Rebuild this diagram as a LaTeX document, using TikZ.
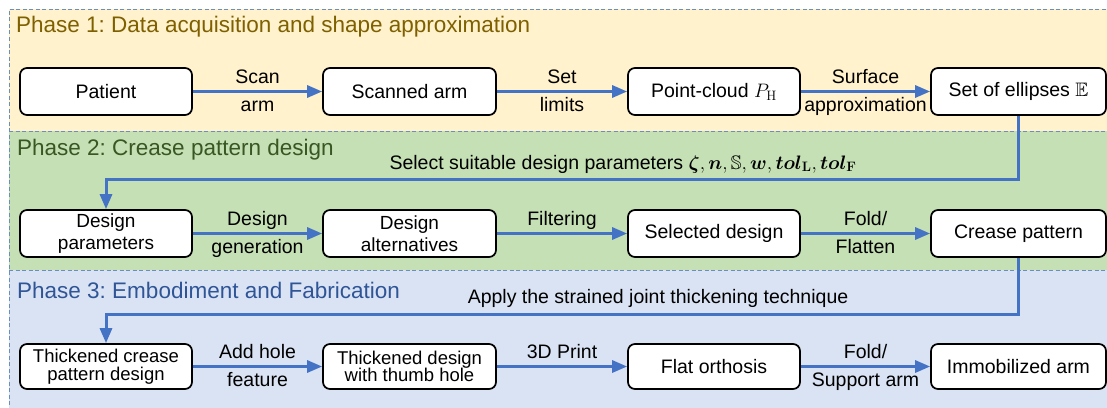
\RequirePackage{fix-cm}
\documentclass[tikz,border=0pt]{standalone}
\usepackage{amsmath,amssymb,bm}
\usepackage[no-math]{fontspec}
\setmainfont{Liberation Sans}
\usetikzlibrary{arrows.meta,calc}
\frenchspacing

\definecolor{bandA}{HTML}{FFF2CC}
\definecolor{bandB}{HTML}{C5E0B4}
\definecolor{bandC}{HTML}{DAE3F3}
\definecolor{titleA}{HTML}{7F6000}
\definecolor{titleB}{HTML}{385723}
\definecolor{titleC}{HTML}{2F5597}
\definecolor{bandline}{HTML}{6C8EBF}
\definecolor{flowblue}{HTML}{4472C4}

\begin{document}
\begin{tikzpicture}[x=1pt,y=-1pt,
  stage/.style={draw=black, line width=1.7pt, rounded corners=7pt, fill=white,
    minimum width=172pt, minimum height=47pt, inner sep=2pt, align=center,
    font=\fontsize{19.5}{23}\selectfont},
  twoline/.style={font=\fontsize{19}{21.5}\selectfont},
  tightline/.style={font=\fontsize{18.5}{17.5}\selectfont},
  flow/.style={draw=flowblue, line width=3pt,
    -{Triangle[length=15pt,width=12pt]}},
  lblup/.style={anchor=base, inner sep=0pt, yshift=8pt,
    font=\fontsize{19.5}{23}\selectfont},
  lbldn/.style={anchor=base, inner sep=0pt, yshift=-19.5pt,
    font=\fontsize{19.5}{23}\selectfont},
  note/.style={anchor=base, inner sep=0pt, font=\fontsize{19.5}{23}\selectfont},
  phasetitle/.style={anchor=base west, inner sep=0pt,
    font=\fontsize{22.5}{27}\selectfont},
  bandedge/.style={draw=bandline, line width=1pt, dash pattern=on 4pt off 2.5pt}
]
\useasboundingbox (0,0) rectangle (1107,407);

% phase bands
\fill[bandA] (9,9) rectangle (1112,131);
\fill[bandB] (9,131) rectangle (1112,270);
\fill[bandC] (9,270) rectangle (1112,412);
\draw[bandedge] (1112,9) -- (9,9) -- (9,412);
\draw[bandedge] (9,131) -- (1112,131);
\draw[bandedge] (9,270) -- (1112,270);

% phase titles
\node[phasetitle, text=titleA] (title1) at (16,32) {Phase 1: Data acquisition and shape approximation};
\node[phasetitle, text=titleB] (title2) at (17,155) {Phase 2: Crease pattern design};
\node[phasetitle, text=titleC] (title3) at (17,298) {Phase 3: Embodiment and Fabrication};

% row 1
\node[stage] (pat)  at (106,91.5)    {Patient};
\node[stage, minimum width=173pt] (scan) at (409.5,91.5) {Scanned arm};
\node[stage] (pcl)  at (714,91.5)    {Point-cloud $P_{\mathrm{H}}$};
\node[stage, minimum width=175pt] (ell)  at (1018.5,91.5) {Set of ellipses $\mathbb{E}$};

% row 2
\node[stage, twoline] (dpar) at (106,233.5) {Design\\parameters};
\node[stage, twoline, minimum width=173pt] (dalt) at (409.5,233.5) {Design\\alternatives};
\node[stage] (sel)  at (714,233.5)   {Selected design};
\node[stage, minimum width=175pt] (crease) at (1018.5,233.5) {Crease pattern};

% row 3
\node[stage, tightline, minimum height=45pt] (thk) at (106,366.5) {Thickened crease\\pattern design};
\node[stage, tightline, minimum height=45pt, minimum width=173pt] (thm) at (409.5,366.5) {Thickened design\\with thumb hole};
\node[stage, minimum height=45pt] (flat) at (714,366.5) {Flat orthosis};
\node[stage, minimum height=45pt, minimum width=175pt] (imm) at (1018.5,366.5) {Immobilized arm};

% horizontal steps
\draw[flow] (pat) -- (scan) node[midway, lblup] {Scan} node[midway, lbldn] {arm};
\draw[flow] (scan) -- (pcl) node[midway, lblup] {Set} node[midway, lbldn] {limits};
\draw[flow] (pcl) -- (ell) node[midway, lblup] {Surface} node[midway, lbldn] {approximation};

\draw[flow] (dpar) -- (dalt) node[midway, lblup] {Design} node[midway, lbldn] {generation};
\draw[flow] (dalt) -- (sel) node[midway, lblup] {Filtering};
\draw[flow] (sel) -- (crease) node[midway, lblup] {Fold/} node[midway, lbldn] {Flatten};

\draw[flow] (thk) -- (thm) node[midway, lblup] {Add hole} node[midway, lbldn] {feature};
\draw[flow] (thm) -- (flat) node[midway, lblup] {3D Print};
\draw[flow] (flat) -- (imm) node[midway, lblup] {Fold/} node[midway, lbldn] {Support arm};

% links between phases
\coordinate (bendA) at (106,179);
\coordinate (bendB) at (106,314);
\draw[flow, rounded corners=0pt] (ell.south) |- (bendA) -- (dpar.north);
\draw[flow, rounded corners=0pt] (crease.south) |- (bendB) -- (thk.north);

\node[note] (selnote) at (623,169) {Select suitable design parameters $\bm{\zeta},\bm{n},\mathbb{S},\bm{w},\bm{tol}_{\mathbf{L}},\bm{tol}_{\mathbf{F}}$};
\node[note] (applynote) at (658,303) {Apply the strained joint thickening technique};
\end{tikzpicture}
\end{document}
